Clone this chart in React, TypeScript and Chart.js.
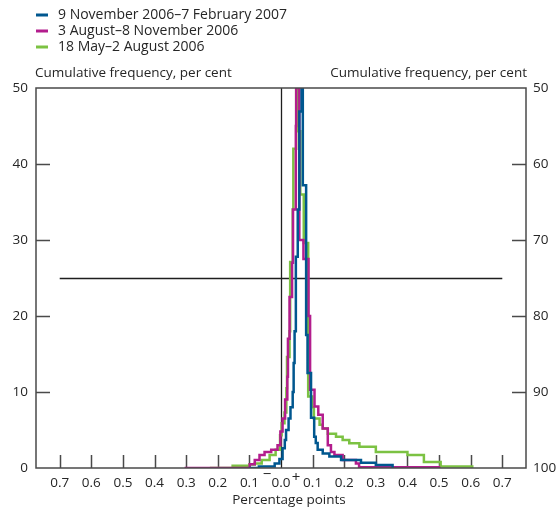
import React, { useEffect, useRef } from "react";
import { Chart, registerables } from "chart.js";

Chart.register(...registerables);

// ---- data ----
const SERIES_LABELS = [
  "9 November 2006\u20137 February 2007",
  "3 August\u20138 November 2006",
  "18 May\u20132 August 2006",
];
const SERIES_COLORS = ["#00578f", "#b31d8d", "#7cc243"];

const BLUE_X = [-0.1, -0.07, -0.02, -0.005, 0.005, 0.012, 0.016, 0.024, 0.03, 0.037, 0.04, 0.043, 0.047, 0.053, 0.058, 0.065,
  0.069, 0.0795, 0.084, 0.095, 0.105, 0.11, 0.116, 0.132, 0.153, 0.19, 0.253, 0.3, 0.353];
const BLUE_Y = [0, 0.2, 0.6, 1.2, 2.6, 3.7, 5.0, 6.5, 8.0, 10.0, 13.8, 18.0, 27.8, 34.0, 46.9, 50,
  37.2, 17.5, 12.5, 6.6, 4.1, 3.3, 2.4, 1.9, 1.5, 1.05, 0.7, 0.4, 0];

const MAGENTA_X = [-0.305, -0.099, -0.083, -0.068, -0.052, -0.031, -0.011, -0.002, 0.005, 0.013, 0.02, 0.022, 0.027, 0.035, 0.038, 0.047, 0.048,
  0.058, 0.071, 0.087, 0.092, 0.106, 0.118, 0.132, 0.148, 0.158, 0.169, 0.195, 0.237, 0.247, 0.5];
const MAGENTA_Y = [0, 0.5, 1.05, 1.7, 2.1, 2.4, 3.0, 4.8, 6.5, 9, 12, 17, 22.5, 27, 34, 45, 50,
  30, 27.5, 20, 10.3, 8.1, 7.0, 5.2, 3.0, 2.1, 1.7, 1.05, 0.6, 0.1, 0];

const GREEN_X = [-0.225, -0.153, -0.1, -0.083, -0.061, -0.036, -0.017, -0.003, 0.002, 0.011, 0.017, 0.019, 0.027, 0.029, 0.037, 0.039, 0.048,
  0.056, 0.061, 0.072, 0.086, 0.099, 0.104, 0.122, 0.132, 0.148, 0.174, 0.195, 0.216, 0.248, 0.3, 0.4, 0.452, 0.505, 0.605];
const GREEN_Y = [0, 0.3, 0.45, 0.6, 1.05, 1.7, 2.4, 4.3, 5.9, 7.3, 10.5, 14.6, 18, 27.1, 34, 42, 50,
  44.3, 36, 29.6, 9.4, 8.0, 6.5, 5.7, 5.2, 4.5, 4.1, 3.7, 3.25, 2.8, 2.1, 1.7, 0.8, 0.2, 0];

const X_TICKS = [-0.7, -0.6, -0.5, -0.4, -0.3, -0.2, -0.1, 0, 0.1, 0.2, 0.3, 0.4, 0.5, 0.6, 0.7];
const X_TICK_LABELS = ["0.7", "0.6", "0.5", "0.4", "0.3", "0.2", "0.1", "0.0", "0.1", "0.2", "0.3", "0.4", "0.5", "0.6", "0.7"];
const Y_TICKS = [0, 10, 20, 30, 40, 50];
const Y2_TICKS = [50, 60, 70, 80, 90, 100];
const REF_LINE_Y = 25;

const TITLE_LEFT = "Cumulative frequency, per cent";
const TITLE_RIGHT = "Cumulative frequency, per cent";
const X_TITLE = "Percentage points";

const FONT = "'Open Sans', 'Noto Sans', sans-serif";
const TEXT = "#262626";
const FRAME = "#4a4a4a";

function zip(xs: number[], ys: number[]) {
  return xs.map((x, i) => ({ x, y: ys[i] }));
}

const decorPlugin = {
  id: "decor",
  beforeDatasetsDraw(chart: any) {
    const { ctx, chartArea: a, scales } = chart;
    const x = scales.x, y = scales.y;
    ctx.save();
    ctx.strokeStyle = "#1e1e1e";
    ctx.lineWidth = 1.3;
    const x0 = Math.round(x.getPixelForValue(0)) + 0.5;
    ctx.beginPath();
    ctx.moveTo(x0, a.top);
    ctx.lineTo(x0, a.bottom);
    ctx.stroke();
    const yr = Math.round(y.getPixelForValue(REF_LINE_Y)) + 0.5;
    ctx.beginPath();
    ctx.moveTo(x.getPixelForValue(X_TICKS[0]), yr);
    ctx.lineTo(x.getPixelForValue(X_TICKS[X_TICKS.length - 1]), yr);
    ctx.stroke();
    ctx.strokeStyle = FRAME;
    ctx.lineWidth = 1.5;
    ctx.beginPath();
    X_TICKS.forEach((v) => {
      if (v === 0) return;
      const px = Math.round(x.getPixelForValue(v)) + 0.5;
      ctx.moveTo(px, a.bottom);
      ctx.lineTo(px, a.bottom - 13);
    });
    Y_TICKS.forEach((v) => {
      if (v === 0 || v === 50) return;
      const py = Math.round(y.getPixelForValue(v)) + 0.5;
      ctx.moveTo(a.left, py);
      ctx.lineTo(a.left + 14, py);
      ctx.moveTo(a.right, py);
      ctx.lineTo(a.right - 14, py);
    });
    ctx.stroke();
    ctx.restore();
  },
  afterDraw(chart: any) {
    const { ctx, chartArea: a, scales } = chart;
    const x = scales.x;
    ctx.save();
    ctx.strokeStyle = FRAME;
    ctx.lineWidth = 1.5;
    ctx.strokeRect(a.left, a.top, a.right - a.left, a.bottom - a.top);
    ctx.font = `14px ${FONT}`;
    ctx.textBaseline = "middle";
    ctx.textAlign = "left";
    SERIES_LABELS.forEach((lab, i) => {
      const yy = 15 + i * 16;
      ctx.strokeStyle = SERIES_COLORS[i];
      ctx.lineWidth = 3;
      ctx.beginPath();
      ctx.moveTo(36, yy);
      ctx.lineTo(48, yy);
      ctx.stroke();
      ctx.fillStyle = TEXT;
      ctx.fillText(lab, 58, yy);
    });
    ctx.font = `13.5px ${FONT}`;
    ctx.fillStyle = TEXT;
    ctx.fillText(TITLE_LEFT, a.left - 1, 73);
    ctx.textAlign = "right";
    ctx.fillText(TITLE_RIGHT, a.right + 1, 73);
    ctx.textAlign = "center";
    ctx.fillText(X_TITLE, 289, 500);
    const zx = x.getPixelForValue(0);
    ctx.font = `15px ${FONT}`;
    ctx.fillText("\u2212", zx - 14, 475);
    ctx.fillText("+", zx + 15, 478);
    ctx.restore();
  },
};

export default function App() {
  const ref = useRef<HTMLCanvasElement>(null);
  useEffect(() => {
    if (!ref.current) return;
    const ds = [
      { label: SERIES_LABELS[0], data: zip(BLUE_X, BLUE_Y), borderColor: SERIES_COLORS[0] },
      { label: SERIES_LABELS[1], data: zip(MAGENTA_X, MAGENTA_Y), borderColor: SERIES_COLORS[1] },
      { label: SERIES_LABELS[2], data: zip(GREEN_X, GREEN_Y), borderColor: SERIES_COLORS[2] },
    ].map((d) => ({ ...d, stepped: true, borderWidth: 2.5, pointRadius: 0, fill: false, tension: 0 }));
    const tickFont = { family: FONT, size: 13.5 };
    const chart = new Chart(ref.current, {
      type: "line",
      data: { datasets: ds as any },
      plugins: [decorPlugin],
      options: {
        animation: false,
        responsive: false,
        layout: { padding: { top: 88, left: 0, right: 0, bottom: 0 } },
        plugins: { legend: { display: false }, tooltip: { enabled: false } },
        scales: {
          x: {
            type: "linear",
            min: -0.775,
            max: 0.775,
            grid: { display: false, drawTicks: false },
            border: { display: false },
            afterBuildTicks: (s: any) => { s.ticks = X_TICKS.map((v) => ({ value: v })); },
            afterFit: (s: any) => { s.height = 44; },
            ticks: {
              autoSkip: false,
              maxRotation: 0,
              padding: 7,
              color: TEXT,
              font: tickFont,
              callback: (_v: any, i: number) => X_TICK_LABELS[i],
            },
          },
          y: {
            type: "linear",
            position: "left",
            min: 0,
            max: 50,
            grid: { display: false, drawTicks: false },
            border: { display: false },
            afterBuildTicks: (s: any) => { s.ticks = Y_TICKS.map((v) => ({ value: v })); },
            afterFit: (s: any) => { s.width = 36; },
            ticks: { padding: 8, color: TEXT, font: tickFont },
          },
          y2: {
            type: "linear",
            position: "right",
            min: 50,
            max: 100,
            reverse: true,
            grid: { display: false, drawTicks: false },
            border: { display: false },
            afterBuildTicks: (s: any) => { s.ticks = Y2_TICKS.map((v) => ({ value: v })); },
            afterFit: (s: any) => { s.width = 32; },
            ticks: { padding: 7, color: TEXT, font: tickFont },
          },
        },
      } as any,
    });
    return () => chart.destroy();
  }, []);
  return (
    <div style={{ position: "absolute", left: 0, top: 0, width: 558, height: 512, background: "#fff" }}>
      <canvas ref={ref} width={558} height={512} style={{ display: "block" }} />
    </div>
  );
}
